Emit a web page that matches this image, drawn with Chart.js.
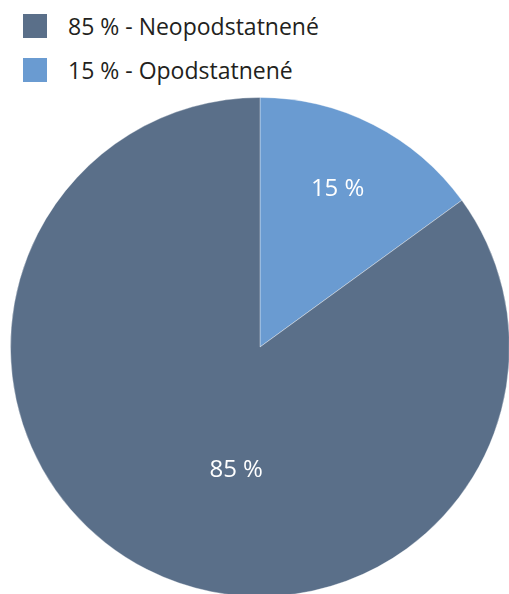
<!DOCTYPE html>
<html lang="sk">
<head>
    <meta charset="UTF-8">
    <title>Podnety</title>
    <script src="https://cdn.jsdelivr.net/npm/chart.js"></script>
    <style>
        html, body { margin: 0; padding: 0; background: #fff; overflow: hidden; width: 509px; height: 594px; }
        body { position: relative; font-family: "Open Sans", sans-serif; }
        #legend { position: absolute; left: 23px; top: 14px; }
        .item { display: flex; align-items: center; height: 24px; margin-bottom: 20px; font-size: 23px; color: #231f20; }
        .box { width: 24px; height: 24px; margin-right: 21px; }
        #wrap { position: absolute; left: 10px; top: 97px; width: 500px; height: 500px; }
    </style>
</head>
<body>
    <div id="legend"></div>
    <div id="wrap"><canvas id="pie"></canvas></div>

    <script>
        // data, in drawing order (clockwise from top)
        const labels = ['Opodstatnené', 'Neopodstatnené'];
        const values = [15, 85];
        const colors = ['#6a9bd1', '#5a6f89'];
        // label placement inside slices: fraction of radius, angle shift in degrees
        const labelRadius = [0.71, 0.5];
        const labelShift = [-1, -16];

        // legend (85 % first, as in the original)
        const legend = document.getElementById('legend');
        for (let i = labels.length - 1; i >= 0; i--) {
            const item = document.createElement('div');
            item.className = 'item';
            item.innerHTML = `<span class="box" style="background:${colors[i]}"></span><span>${values[i]} % - ${labels[i]}</span>`;
            legend.appendChild(item);
        }

        const sliceLabels = {
            id: 'sliceLabels',
            afterDatasetsDraw(chart) {
                const ctx = chart.ctx;
                const meta = chart.getDatasetMeta(0);
                ctx.save();
                ctx.fillStyle = '#ffffff';
                ctx.font = '24px "Open Sans", sans-serif';
                ctx.textAlign = 'center';
                ctx.textBaseline = 'middle';
                meta.data.forEach((arc, i) => {
                    const p = arc.getProps(['x', 'y', 'startAngle', 'endAngle', 'outerRadius'], true);
                    const a = (p.startAngle + p.endAngle) / 2 + labelShift[i] * Math.PI / 180;
                    const r = p.outerRadius * labelRadius[i];
                    ctx.fillText(values[i] + ' %', p.x + Math.cos(a) * r, p.y + Math.sin(a) * r + 1);
                });
                ctx.restore();
            }
        };

        new Chart(document.getElementById('pie'), {
            type: 'pie',
            data: {
                labels: labels,
                datasets: [{
                    data: values,
                    backgroundColor: colors,
                    borderColor: 'rgba(255,255,255,0.35)',
                    borderWidth: 1
                }]
            },
            options: {
                responsive: true,
                maintainAspectRatio: false,
                animation: false,
                layout: { padding: 0 },
                plugins: {
                    legend: { display: false },
                    tooltip: { enabled: false }
                }
            },
            plugins: [sliceLabels]
        });
    </script>
</body>
</html>
